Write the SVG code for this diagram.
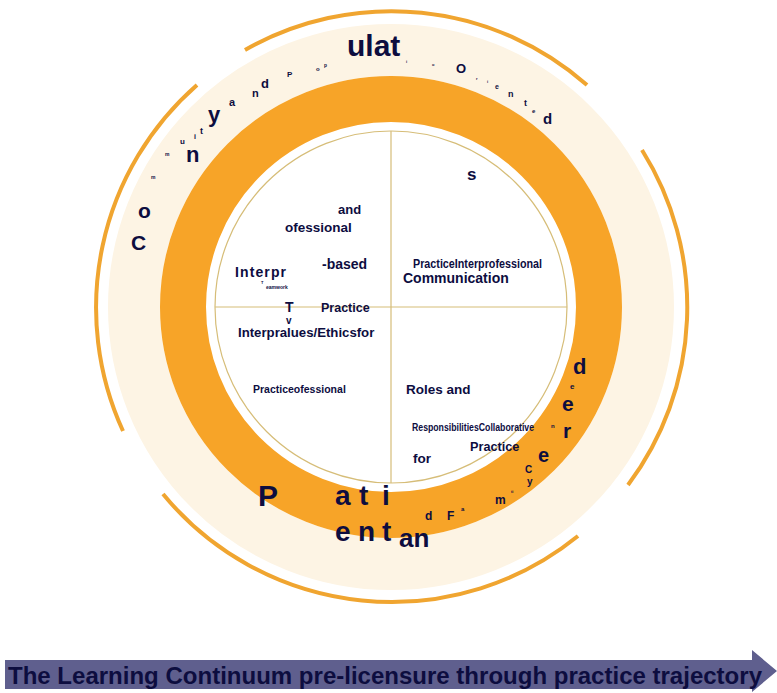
<svg xmlns="http://www.w3.org/2000/svg" width="777" height="693" viewBox="0 0 777 693">
<style>
.t{font-family:"Liberation Sans",Arial,sans-serif;font-weight:bold;fill:#0d0d3f}
.arc{fill:none;stroke:#f0a530;stroke-width:4}
.q{stroke:#d6bd78;stroke-width:1.2;fill:none}
</style>
<rect width="777" height="693" fill="#ffffff"/>
<g id="rings">
<circle cx="391" cy="307" r="257" fill="none" stroke="#fdf4e4" stroke-width="52"/>
<circle cx="391" cy="307" r="208" fill="none" stroke="#f7a428" stroke-width="46"/>
<circle cx="391" cy="307" r="176" fill="#ffffff" stroke="#d6bd78" stroke-width="1.2"/>
</g>
<g id="outer-arcs">
<path class="arc" d="M245,50 A296,296 0 0 1 587,85"/>
<path class="arc" d="M197,85 A296,296 0 0 0 123,431"/>
<path class="arc" d="M642,150 A296,296 0 0 1 628,485"/>
<path class="arc" d="M163,494 A296,296 0 0 0 578,536"/>
</g>
<g id="quadrant-lines">
<line class="q" x1="215" y1="307" x2="567" y2="307"/>
<line class="q" x1="391" y1="131" x2="391" y2="483"/>
</g>
<g id="outer-ring-text">
<text class="t" x="131" y="250" font-size="21">C</text>
<text class="t" x="138" y="218" font-size="21">o</text>
<text class="t" x="151" y="179" font-size="5">m</text>
<text class="t" x="165" y="156" font-size="5">m</text>
<text class="t" x="186" y="162" font-size="22">n</text>
<text class="t" x="180" y="144" font-size="8">u</text>
<text class="t" x="194" y="139" font-size="7">i</text>
<text class="t" x="200" y="134" font-size="9">t</text>
<text class="t" x="208" y="122" font-size="22">y</text>
<text class="t" x="229" y="106" font-size="11">a</text>
<text class="t" x="252" y="97" font-size="11">n</text>
<text class="t" x="261" y="88" font-size="13">d</text>
<text class="t" x="287" y="77" font-size="8">P</text>
<text class="t" x="316" y="71" font-size="6">o</text>
<text class="t" x="324" y="67" font-size="5">p</text>
<text class="t" x="347" y="56" font-size="30">ulat</text>
<text class="t" x="406" y="63" font-size="4">i</text>
<text class="t" x="432" y="66" font-size="4">o</text>
<text class="t" x="456" y="73" font-size="13">O</text>
<text class="t" x="476" y="80" font-size="4">r</text>
<text class="t" x="487" y="83" font-size="4">i</text>
<text class="t" x="495" y="89" font-size="7">e</text>
<text class="t" x="508" y="97" font-size="9">n</text>
<text class="t" x="524" y="106" font-size="9">t</text>
<text class="t" x="532" y="113" font-size="6">e</text>
<text class="t" x="543" y="124" font-size="15">d</text>
</g>
<g id="patient-family-text">
<text class="t" x="573" y="374" font-size="22">d</text>
<text class="t" x="570" y="389" font-size="8">e</text>
<text class="t" x="562" y="411" font-size="21">e</text>
<text class="t" x="563" y="438" font-size="21">r</text>
<text class="t" x="538" y="462" font-size="20">e</text>
<text class="t" x="525" y="473" font-size="10">C</text>
<text class="t" x="527" y="485" font-size="10">y</text>
<text class="t" x="511" y="493" font-size="4">ti</text>
<text class="t" x="495" y="504" font-size="12">m</text>
<text class="t" x="461" y="511" font-size="6">a</text>
<text class="t" x="447" y="520" font-size="12">F</text>
<text class="t" x="425" y="520" font-size="12">d</text>
<text class="t" x="258" y="506" font-size="30">P</text>
<text class="t" y="505" font-size="28"><tspan x="335">a</tspan><tspan x="359">t</tspan><tspan x="382">i</tspan></text>
<text class="t" y="541" font-size="28"><tspan x="335">e</tspan><tspan x="358">n</tspan><tspan x="382">t</tspan></text>
<text class="t" x="399" y="547" font-size="26">an</text>
</g>
<g id="quadrant-teamwork">
<text class="t" x="338" y="214" font-size="13">and</text>
<text class="t" x="285" y="232" font-size="13.5">ofessional</text>
<text class="t" x="322" y="269" font-size="14">-based</text>
<text class="t" x="235" y="277" font-size="14" textLength="51" lengthAdjust="spacing">Interpr</text>
<text class="t" x="261" y="284" font-size="4">T</text>
<text class="t" x="266" y="289" font-size="5">eamwork</text>
<text class="t" x="285" y="312" font-size="14">T</text>
<text class="t" x="286" y="324" font-size="10">v</text>
<text class="t" x="321" y="312" font-size="12.5">Practice</text>
<text class="t" x="238" y="337" font-size="13.2">Interpralues/Ethicsfor</text>
</g>
<g id="quadrant-values">
<text class="t" x="253" y="393" font-size="10.5">Practiceofessional</text>
</g>
<g id="quadrant-communication">
<text class="t" x="467" y="180" font-size="17">s</text>
<text class="t" x="413" y="268" font-size="12" textLength="129" lengthAdjust="spacingAndGlyphs">PracticeInterprofessional</text>
<text class="t" x="403" y="283" font-size="14">Communication</text>
</g>
<g id="quadrant-roles">
<text class="t" x="406" y="394" font-size="13.5">Roles and</text>
<text class="t" x="412" y="431" font-size="10" textLength="122" lengthAdjust="spacingAndGlyphs">ResponsibilitiesCollaborative</text>
<text class="t" x="551" y="428" font-size="6">n</text>
<text class="t" x="470" y="451" font-size="12.7">Practice</text>
<text class="t" x="413" y="463" font-size="13.5">for</text>
</g>
<g id="continuum-arrow">
<polygon points="5,660 752,660 752,650 777,671 752,692 752,689 5,689" fill="#5f5f8e"/>
<text class="t" x="8" y="684" font-size="23" textLength="754" lengthAdjust="spacingAndGlyphs">The Learning Continuum pre-licensure through practice trajectory</text>
</g>
</svg>
